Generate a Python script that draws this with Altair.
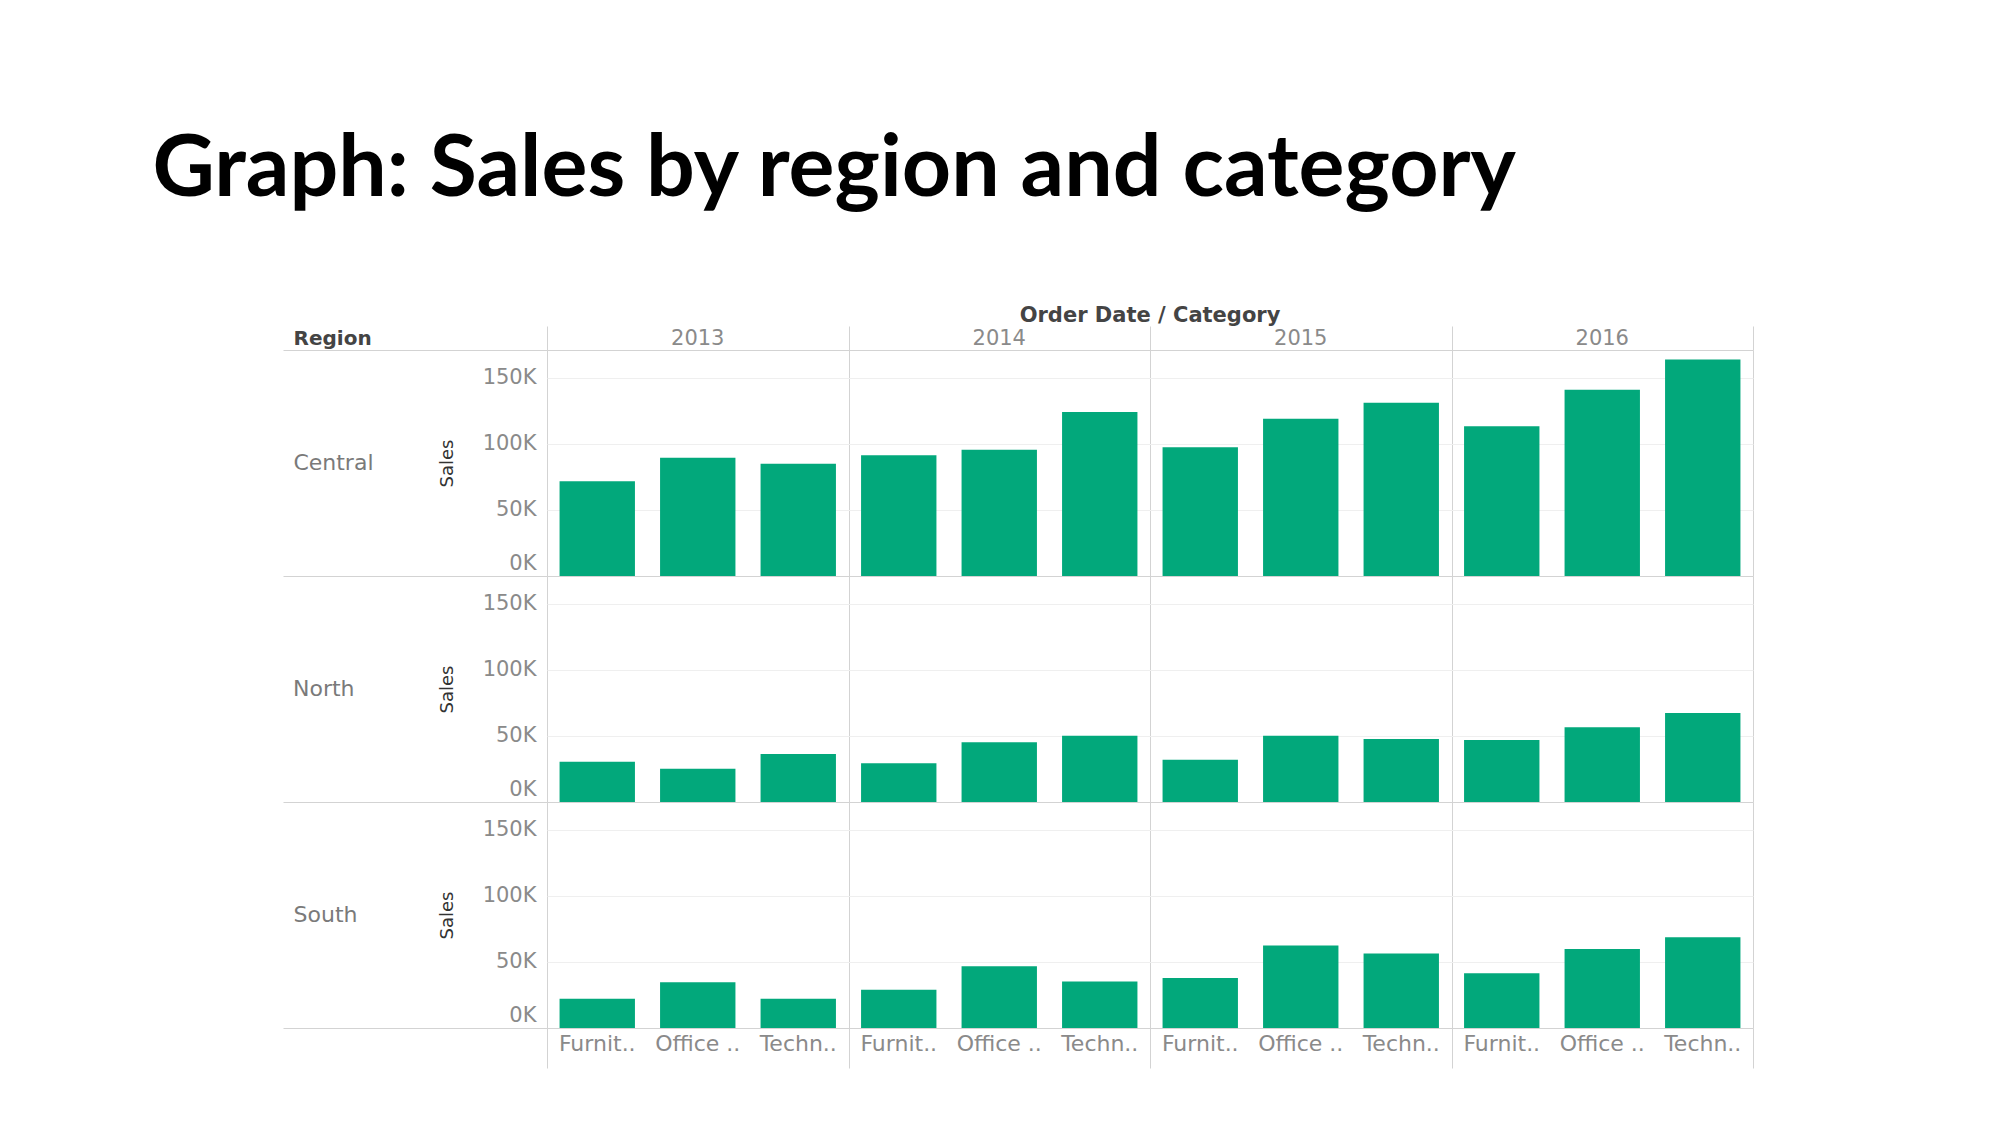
import altair as alt
import pandas as pd

# ---------------- data ----------------
YEARS = ["2013", "2014", "2015", "2016"]
CATEGORIES = ["Furniture", "Office Supplies", "Technology"]
CATEGORY_LABELS = ["Furnit..", "Office ..", "Techn.."]
REGIONS = ["Central", "North", "South"]

# Sales in thousands, ordered year by year: Furniture, Office Supplies, Technology
SALES_CENTRAL = [71.6, 89.5, 85.0, 91.3, 95.6, 124.0, 97.4, 118.9, 131.0, 113.4, 140.9, 163.9]
SALES_NORTH = [30.4, 25.1, 36.4, 29.3, 45.2, 50.2, 32.0, 50.2, 47.7, 46.9, 56.5, 67.4]
SALES_SOUTH = [22.2, 34.6, 22.2, 29.0, 46.7, 35.1, 37.9, 62.5, 56.3, 41.4, 59.8, 68.6]

Y_TICKS = [0, 50000, 100000, 150000]
Y_MAX = 171000

rows = []
for region, vals in zip(REGIONS, [SALES_CENTRAL, SALES_NORTH, SALES_SOUTH]):
    i = 0
    for yr in YEARS:
        for cat in CATEGORIES:
            rows.append({"Region": region, "Year": yr, "Category": cat, "Sales": vals[i] * 1000})
            i += 1
df = pd.DataFrame(rows)

header_df = pd.DataFrame({"Year": YEARS, "h": ["h"] * len(YEARS)})
footer_df = pd.DataFrame(
    [{"Year": yr, "Category": c, "Label": l} for yr in YEARS for c, l in zip(CATEGORIES, CATEGORY_LABELS)]
)

# ---------------- style ----------------
FONT = "DejaVu Sans"
BAR = "#02a87b"
LINE = "#d3d3d3"
GRIDC = "#efefef"
W = 1206
ROW_H = 226
EXT = 264
REGION_FS = 22
# approximate rendered widths of the region labels (for left alignment of the row titles)
REGION_DX = {"Central": 81, "North": 62, "South": 65}


def x_year(domain_line):
    return alt.X(
        "Year:N",
        sort=YEARS,
        scale=alt.Scale(domain=YEARS, paddingInner=0, paddingOuter=0),
        axis=alt.Axis(
            title=None, labels=False, ticks=False, domain=domain_line, domainColor=LINE,
            grid=True, gridColor=LINE, tickBand="extent",
        ),
    )


x_off = alt.XOffset(
    "Category:N",
    sort=CATEGORIES,
    scale=alt.Scale(domain=CATEGORIES, paddingInner=0.25, paddingOuter=0.125),
)


def row_chart(region, first):
    # the first row also draws the line along its top edge (grid at the domain max)
    top_test = "datum.value >= 171000" if first else "false"
    return (
        alt.Chart(df[df.Region == region])
        .mark_bar(color=BAR)
        .encode(
            x=x_year(True),
            xOffset=x_off,
            y=alt.Y(
                "Sales:Q",
                scale=alt.Scale(domain=[0, Y_MAX], nice=False, zero=True),
                axis=alt.Axis(
                    values=Y_TICKS + [Y_MAX],
                    labelExpr="datum.value >= 171000 ? '' : (datum.value / 1000) + 'K'",
                    labelFont=FONT, labelFontSize=21, labelColor="#8a8a8a",
                    labelPadding=-EXT + 11,
                    labelFlush=True, labelFlushOffset=-3,
                    tickSize=EXT, tickColor=LINE, tickWidth=1,
                    tickOpacity={"condition": {"test": "datum.value == 0 || " + top_test, "value": 1}, "value": 0},
                    grid=True,
                    gridColor={"condition": {"test": "datum.value >= 171000", "value": LINE}, "value": GRIDC},
                    gridOpacity={
                        "condition": {"test": "datum.value == 0 || (datum.value >= 171000 && !(" + top_test + "))", "value": 0},
                        "value": 1,
                    },
                    domain=False,
                    title="Sales", titleFont=FONT, titleFontSize=18, titleFontWeight="normal",
                    titleColor="#333", titleAngle=-90, titleAlign="center", titleBaseline="middle",
                    titleX=-100, titleY=ROW_H / 2,
                ),
            ),
        )
        .properties(
            width=W, height=ROW_H,
            title=alt.TitleParams(
                region, orient="left", angle=0, align="left", anchor="middle", baseline="middle",
                offset=-10, dx=REGION_DX[region], font=FONT, fontSize=REGION_FS,
                fontWeight="normal", color="#7a7a7a",
            ),
        )
    )


header = (
    alt.Chart(header_df)
    .mark_text(font=FONT, fontSize=21, color="#8a8a8a", dy=1)
    .encode(
        x=x_year(False),
        y=alt.Y(
            "h:N",
            axis=alt.Axis(
                labels=False, ticks=False, domain=False, grid=False,
                title="Region", titleAngle=0, titleAlign="left", titleBaseline="middle",
                titleX=-254, titleY=12, titleFont=FONT, titleFontSize=20, titleFontWeight="bold",
                titleColor="#444",
            ),
        ),
        text="Year:N",
    )
    .properties(
        width=W, height=24,
        title=alt.TitleParams(
            "Order Date / Category", anchor="middle", font=FONT, fontSize=21, fontWeight="bold",
            color="#444", offset=0,
        ),
    )
)

footer = (
    alt.Chart(footer_df)
    .mark_text(font=FONT, fontSize=22, color="#8a8a8a", dy=-4)
    .encode(x=x_year(False), xOffset=x_off, text="Label:N")
    .properties(width=W, height=40)
)

chart = (
    alt.vconcat(
        header,
        row_chart("Central", True),
        row_chart("North", False),
        row_chart("South", False),
        footer,
        spacing=0,
        bounds="flush",
    )
    .properties(
        title=alt.TitleParams(
            "Graph: Sales by region and category", anchor="start", font="Lato", fontSize=86,
            fontWeight="bold", color="#000000", dx=-130, offset=91,
        ),
        padding={"left": 152, "top": 127, "right": 10, "bottom": 10},
    )
    .configure(background="white", view=alt.ViewConfig(strokeWidth=0, strokeOpacity=0))
)

chart.save("out.html", embed_options={"renderer": "svg", "actions": False})
